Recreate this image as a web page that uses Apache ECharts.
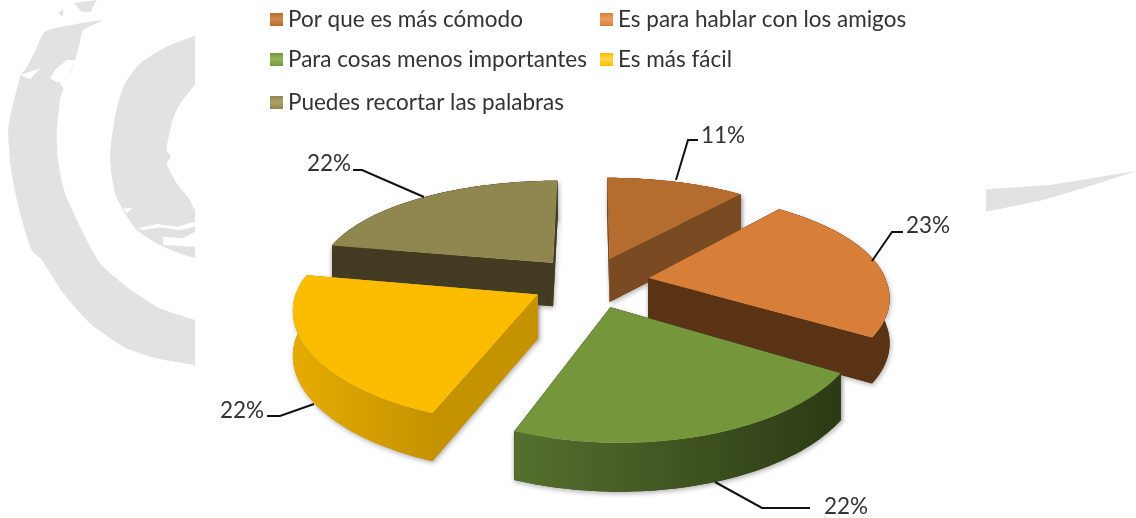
<!DOCTYPE html>
<html>
<head>
<meta charset="utf-8">
<script src="https://cdn.jsdelivr.net/npm/echarts@6/dist/echarts.min.js"></script>
<style>
html,body{margin:0;padding:0;background:#fff;}
#main{width:1136px;height:518px;}
</style>
</head>
<body>
<div id="main"></div>
<script>
var categories = ['Por que es más cómodo', 'Es para hablar con los amigos', 'Para cosas menos importantes', 'Es más fácil', 'Puedes recortar las palabras'];
var values = [11, 23, 22, 22, 22];

var topColors = ['#b56d2f', '#d77f39', '#76963c', '#fcbc00', '#8f8650'];
var iconGlow = ['#cf8a4c', '#eb9f5e', '#94b558', '#ffd94a', '#aca26c'];
var rimColors = [['#7a4b22', '#7a4b22'], ['#5a3315', '#5a3315'], ['#55702e', '#2b3a14'], ['#e6ac00', '#c69300'], ['#423b21', '#423b21']];
var sideColors = ['#7a4b22', '#5a3315', '#33441a', '#c69300', '#423b21'];
var labelText = [[701, 136], [906, 226], [824, 507], [220, 411], [307, 164]];
var leaderLines = [
    [[676, 180], [688, 140], [698, 140]],
    [[872, 261], [892, 232], [903, 232]],
    [[715, 482], [762, 508], [810, 508]],
    [[314, 404], [280, 416], [267, 416]],
    [[424, 197], [362, 170], [353, 170]]
];
var legendPos = [[270, 8], [600, 8], [270, 48], [600, 48], [270, 91]];

var total = 0;
for (var i = 0; i < values.length; i++) total += values[i];

// ground plane to screen, a pie of radius 1 seen in perspective
var explode = 0.25;
function project(u, v) {
    var shear = v < 0 ? -6 * v : 0;
    return [590 + 238 * u / (1 + 0.14 * v) + shear, 282 - 102.3 * v / (1 + 0.172 * v)];
}
function down(p, v) {
    return [p[0], p[1] + 44 / (1 + 0.08 * v)];
}

function sliceAngles(index) {
    var start = 0;
    for (var i = 0; i < index; i++) start += values[i];
    return [start / total * Math.PI * 2, (start + values[index]) / total * Math.PI * 2];
}

function renderSlice(params, api) {
    var idx = params.seriesIndex;
    var val = api.value(0);
    var ang = sliceAngles(idx);
    var mid = (ang[0] + ang[1]) / 2;
    var ou = explode * Math.sin(mid), ov = explode * Math.cos(mid);
    var apex = project(ou, ov);
    var apexDown = down(apex, ov);

    var rimTop = [], rimBottom = [];
    var steps = 50;
    for (var s = 0; s <= steps; s++) {
        var a = ang[0] + (ang[1] - ang[0]) * s / steps;
        var u = ou + Math.sin(a), v = ov + Math.cos(a);
        var p = project(u, v);
        rimTop.push(p);
        rimBottom.push(down(p, v));
    }

    var ptsA = [apex, rimTop[0], rimBottom[0], apexDown];
    var ptsB = [apex, rimTop[steps], rimBottom[steps], apexDown];
    var ptsRim = rimTop.concat(rimBottom.slice().reverse());
    // the wall nearer the viewer goes on top of the other one
    var wallPts = Math.cos(ang[0]) > Math.cos(ang[1]) ? [ptsA, ptsB] : [ptsB, ptsA];

    // soft shadow first, so it only shows outside the finished slice
    var shadow = [];
    [ptsA, ptsB, ptsRim].forEach(function(pts) {
        shadow.push({type: 'polygon', shape: {points: pts},
            style: {fill: sideColors[idx], shadowBlur: 5, shadowColor: 'rgba(60,60,60,0.4)', shadowOffsetX: 1, shadowOffsetY: 2}});
    });

    return {
        type: 'group',
        children: shadow.concat([
            {type: 'polygon', shape: {points: wallPts[0]}, style: {fill: sideColors[idx]}},
            {type: 'polygon', shape: {points: wallPts[1]}, style: {fill: sideColors[idx]}},
            {type: 'polygon', shape: {points: ptsRim},
                style: {
                    fill: new echarts.graphic.LinearGradient(0, 0, 1, 0, [
                        {offset: 0, color: rimColors[idx][0]},
                        {offset: 1, color: rimColors[idx][1]}
                    ])
                }},
            {type: 'polygon', shape: {points: [apex].concat(rimTop)},
                style: {fill: topColors[idx]}},
            {type: 'polyline', shape: {points: leaderLines[idx]},
                style: {stroke: '#111', lineWidth: 2, fill: null}},
            {type: 'text', x: labelText[idx][0], y: labelText[idx][1],
                style: {text: val + '%', fill: '#333', font: '22.5px Lato', textVerticalAlign: 'middle'}}
        ])
    };
}

// slices further back get drawn first
function drawOrder(index) {
    var ang = sliceAngles(index);
    return 10 - Math.cos((ang[0] + ang[1]) / 2) * 5;
}

// faded globe drawn behind the chart, in 3x coordinates of the source image
function wm(points, ox, oy, fill, smooth) {
    var out = [];
    for (var i = 0; i < points.length; i++) out.push([ox + points[i][0] / 3, oy + points[i][1] / 3]);
    return {type: 'polygon', silent: true, z: 0, shape: {points: out, smooth: smooth || 0}, style: {fill: fill}};
}
var grey = '#e2e2e2', white = '#fff';
var watermark = [
    // outer band
    wm([[305,62],[230,72],[135,95],[105,155],[75,210],[62,225],[25,385],[35,520],[60,640],[95,750],[125,780],[190,880],[270,970],[370,1040],[470,1075],[585,1095],[640,1100],[640,975],[585,960],[480,925],[380,860],[300,790],[240,680],[195,580],[175,490],[170,400],[180,300],[190,265],[175,240],[205,230],[225,180],[240,125],[250,90]], 0, 0, grey, 0.2),
    wm([[62,225],[120,205],[90,238]], 0, 0, white),
    wm([[150,235],[165,210],[200,180],[225,180],[205,230],[170,247]], 0, 0, white),
    wm([[250,92],[266,95],[252,110]], 0, 0, white),
    wm([[175,40],[190,28],[188,50]], 0, 0, grey),
    wm([[222,10],[250,5],[290,0],[272,35],[245,35]], 0, 0, grey),
    // inner band
    wm([[640,100],[585,108],[500,140],[420,190],[370,260],[345,350],[330,470],[345,580],[375,640],[410,690],[480,735],[570,770],[640,770],[640,640],[585,630],[570,600],[530,550],[500,490],[512,470],[500,450],[515,370],[535,320],[585,255],[640,230]], 0, 0, grey, 0.2),
    wm([[370,625],[398,625],[380,640]], 0, 0, white),
    wm([[415,685],[470,672],[530,680],[585,665],[585,680],[540,690],[480,682],[430,690]], 0, 0, white),
    wm([[490,710],[550,715],[585,695],[585,740],[490,735]], 0, 0, white),
    // white panel the chart sits on
    {type: 'rect', silent: true, z: 0, shape: {x: 195, y: 0, width: 790, height: 518}, style: {fill: white}},
    // right wedge
    wm([[78,118],[270,105],[528,63],[400,105],[250,150],[78,185]], 960, 150, grey)
];

var series = [], legends = [];
for (var k = 0; k < categories.length; k++) {
    series.push({
        type: 'custom',
        name: categories[k],
        coordinateSystem: 'none',
        silent: true,
        animation: false,
        z: drawOrder(k),
        itemStyle: {color: topColors[k]},
        renderItem: renderSlice,
        data: [[values[k]]]
    });
    legends.push({
        left: legendPos[k][0],
        top: legendPos[k][1],
        padding: 0,
        itemWidth: 13,
        itemHeight: 13,
        itemGap: 8,
        selectedMode: false,
        icon: 'rect',
        textStyle: {fontFamily: 'Lato', fontSize: 22.5, color: '#333'},
        data: [{
            name: categories[k],
            itemStyle: {
                color: new echarts.graphic.LinearGradient(0, 0, 0, 1, [
                    {offset: 0, color: topColors[k]},
                    {offset: 0.45, color: iconGlow[k]},
                    {offset: 1, color: topColors[k]}
                ])
            }
        }]
    });
}

var myChart = echarts.init(document.getElementById('main'), null, {renderer: 'canvas'});
myChart.setOption({
    backgroundColor: '#fff',
    animation: false,
    legend: legends,
    graphic: watermark,
    series: series
});
</script>
</body>
</html>
